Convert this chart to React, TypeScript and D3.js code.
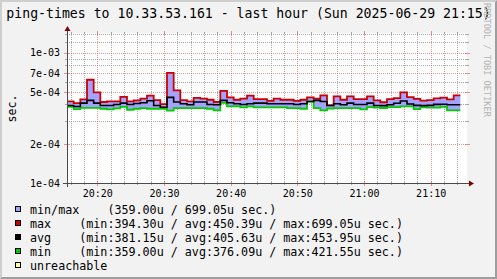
import React from "react";
import * as d3 from "d3";

const W = 497;
const H = 279;
const titleText = "ping-times to 10.33.53.161 - last hour (Sun 2025-06-29 21:15)";
const yAxisTitle = "sec.";
const watermark = "RRDTOOL / TOBI OETIKER";

const startTime = new Date(2025, 5, 29, 20, 15, 27);
const endTime = new Date(2025, 5, 29, 21, 15, 27);
const stepMinutes = 1;

// ping times in microseconds, one per minute
const maxValues = [
  423, 410, 438, 619, 495, 418, 423, 423, 458, 423,
  430, 443, 467, 432, 403, 699.05, 513, 432, 423, 450,
  443, 435, 418, 509, 454, 435, 443, 467, 440, 440,
  427, 443, 435, 435, 427, 435, 454, 443, 470, 394.3,
  462, 435, 462, 440, 440, 462, 430, 416, 439, 447,
  495, 456, 442, 429, 432, 445, 452, 438, 470,
];
const avgValues = [
  393, 386, 410, 430, 410, 393, 393, 400, 410, 400,
  407, 413, 427, 393, 381.15, 453.95, 418, 405, 398, 418,
  418, 400, 398, 430, 413, 405, 400, 405, 410, 410,
  405, 405, 405, 405, 400, 405, 422, 430, 422, 393,
  405, 398, 410, 400, 400, 410, 393, 392, 398, 409,
  425, 403, 394, 392, 394, 401, 402, 398, 398,
];
const minValues = [
  384, 369, 377, 377, 377, 371, 367, 373, 384, 364.5,
  371, 375.5, 371, 371, 371, 359, 375.5, 375.5, 375.5, 375,
  375.5, 371, 361, 412, 387, 387, 380, 387, 380, 380,
  380, 380, 380, 375.5, 375.5, 371, 421.55, 375.5, 360, 372,
  375.5, 375, 375, 375, 367, 382, 379, 376, 382, 382,
  387, 387, 369, 380, 378, 378, 384, 360, 360,
];

const yLabelValues = [1e-4, 2e-4, 5e-4, 7e-4, 1e-3];
const yMinorValues = [3e-4, 4e-4, 6e-4, 8e-4, 9e-4, 1.2e-3, 1.4e-3];
const yMin = 1e-4;
const yDecades = 150 / 130.4;

const legendLabels = ["min/max", "max", "avg", "min", "unreachable"];
const legendTexts = [
  "min/max    (359.00u / 699.05u sec.)",
  "max    (min:394.30u / avg:450.39u / max:699.05u sec.)",
  "avg    (min:381.15u / avg:405.63u / max:453.95u sec.)",
  "min    (min:359.00u / avg:376.09u / max:421.55u sec.)",
  "unreachable",
];
const legendColors = ["#a3a3ff", "#cc0000", "#000000", "#00cc00", "#ffff99"];

const FONT = "'DejaVu Sans Mono', monospace";
const COL_BAND = "#a3a3ff";
const COL_MAX = "#cc0000";
const COL_AVG = "#000000";
const COL_MIN = "#00cc00";
const COL_GRID = "rgba(143,143,143,0.75)";
const COL_MGRID = "rgba(222,80,80,0.6)";
const COL_AXIS = "#4a4a4a";
const COL_ARROW = "#7f0000";

export default function App() {
  const PL = 67, PR = 467, PT = 33, PB = 183;
  const x = d3.scaleTime().domain([startTime, endTime]).range([PL, PR]);
  const y = d3.scaleLog().domain([yMin, yMin * Math.pow(10, yDecades)]).range([PB, PT]);

  const n = maxValues.length;
  const tAt = (i: number) => new Date(startTime.getTime() + i * stepMinutes * 60000);
  const rows = maxValues.map((m, i) => ({
    t: tAt(i),
    max: m * 1e-6,
    avg: avgValues[i] * 1e-6,
    min: minValues[i] * 1e-6,
  }));
  rows.push({ ...rows[n - 1], t: tAt(n) });

  const band = d3
    .area<any>()
    .x((d) => x(d.t))
    .y0((d) => y(d.min))
    .y1((d) => y(d.max))
    .curve(d3.curveStepAfter)(rows) as string;
  const mkLine = (key: string) =>
    d3
      .line<any>()
      .x((d) => x(d.t))
      .y((d) => y(d[key]))
      .curve(d3.curveStepAfter)(rows) as string;

  const majorTicks = x.ticks(d3.timeMinute.every(10) as any);
  const majorSet = new Set(majorTicks.map((d) => d.getTime()));
  const minorTicks = x
    .ticks(d3.timeMinute.every(2) as any)
    .filter((d) => !majorSet.has(d.getTime()));
  const fmt = d3.timeFormat("%H:%M");
  const yFmt = (v: number) => {
    const e = Math.floor(Math.log10(v) + 1e-9);
    const m = Math.round(v / Math.pow(10, e));
    const es = Math.abs(e).toString().padStart(2, "0");
    return `${m}e${e < 0 ? "-" : "+"}${es}`;
  };

  const px = (v: number) => Math.round(v) + 0.5;

  return (
    <svg
      width={W}
      height={H}
      style={{ position: "absolute", left: 0, top: 0, display: "block" }}
      xmlns="http://www.w3.org/2000/svg"
    >
      <rect x={0} y={0} width={W} height={H} fill="#f2f2f2" />
      {/* 3D frame */}
      <polygon points={`0,0 ${W},0 ${W - 2},2 2,2 2,${H - 2} 0,${H}`} fill="#cfcfcf" />
      <polygon points={`0,${H} ${W},${H} ${W},0 ${W - 2},2 ${W - 2},${H - 2} 2,${H - 2}`} fill="#9e9e9e" />

      {/* title */}
      <text x={W / 2} y={17.5} textAnchor="middle" fontFamily={FONT} fontSize={13.2} fill="#000">
        {titleText}
      </text>

      {/* watermark */}
      <text
        transform={`translate(484,3) rotate(90)`}
        fontFamily={FONT}
        fontSize={8.6}
        fill="#b4b4b4"
        style={{ whiteSpace: "pre" }}
      >
        {watermark}
      </text>

      {/* y axis title */}
      <text
        transform={`translate(15.5,108.5) rotate(-90)`}
        textAnchor="middle"
        fontFamily={FONT}
        fontSize={11.7}
        fill="#000"
      >
        {yAxisTitle}
      </text>

      {/* canvas */}
      <rect x={PL} y={PT} width={PR - PL} height={PB - PT} fill="#ffffff" />

      {/* grid */}
      {minorTicks.map((t, i) => {
        const xx = px(x(t));
        return (
          <g key={"vm" + i}>
            <line x1={xx} x2={xx} y1={PT} y2={PB} stroke={COL_GRID} strokeDasharray="1,1" />
            <line x1={xx} x2={xx} y1={PB - 1} y2={PB + 2} stroke={COL_GRID} />
            <line x1={xx} x2={xx} y1={PT - 1} y2={PT + 1} stroke={COL_GRID} />
          </g>
        );
      })}
      {yMinorValues
        .filter((v) => y(v) >= PT - 0.6)
        .map((v, i) => {
          const yy = px(y(v));
          return (
            <g key={"hm" + i}>
              <line x1={PL} x2={PR} y1={yy} y2={yy} stroke={COL_GRID} strokeDasharray="1,1" />
              <line x1={PL - 2} x2={PL + 1} y1={yy} y2={yy} stroke={COL_GRID} />
              <line x1={PR - 1} x2={PR + 2} y1={yy} y2={yy} stroke={COL_GRID} />
            </g>
          );
        })}
      {majorTicks.map((t, i) => {
        const xx = px(x(t));
        return (
          <g key={"vM" + i}>
            <line x1={xx} x2={xx} y1={PT} y2={PB} stroke={COL_MGRID} strokeDasharray="1,1" />
            <line x1={xx} x2={xx} y1={PB - 2} y2={PB + 3} stroke={COL_MGRID} />
            <line x1={xx} x2={xx} y1={PT - 2} y2={PT + 2} stroke={COL_MGRID} />
          </g>
        );
      })}
      {yLabelValues.map((v, i) => {
        const yy = px(y(v));
        return (
          <g key={"hM" + i}>
            <line x1={PL} x2={PR} y1={yy} y2={yy} stroke={COL_MGRID} strokeDasharray="1,1" />
            <line x1={PL - 3} x2={PL + 2} y1={yy} y2={yy} stroke={COL_MGRID} />
            <line x1={PR - 2} x2={PR + 3} y1={yy} y2={yy} stroke={COL_MGRID} />
          </g>
        );
      })}

      {/* data */}
      <path d={band} fill={COL_BAND} stroke="none" />
      <path d={mkLine("max")} fill="none" stroke={COL_MAX} strokeWidth={1.8} />
      <path d={mkLine("min")} fill="none" stroke={COL_MIN} strokeWidth={1.8} />
      <path d={mkLine("avg")} fill="none" stroke={COL_AVG} strokeWidth={1.6} />

      {/* axes */}
      <line x1={PL - 4} x2={PR + 4} y1={PB + 0.5} y2={PB + 0.5} stroke={COL_AXIS} />
      <line x1={PL + 0.5} x2={PL + 0.5} y1={PB + 4} y2={PT - 4} stroke={COL_AXIS} />
      <polygon
        points={`${PR + 2},${PB - 2.5} ${PR + 2},${PB + 3.5} ${PR + 7},${PB + 0.5}`}
        fill={COL_ARROW}
      />
      <polygon
        points={`${PL - 2.5},${PT - 2} ${PL + 3.5},${PT - 2} ${PL + 0.5},${PT - 7}`}
        fill={COL_ARROW}
      />

      {/* axis labels */}
      {majorTicks.map((t, i) => (
        <text
          key={"xl" + i}
          x={x(t) + 0.5}
          y={196.5}
          textAnchor="middle"
          fontFamily={FONT}
          fontSize={10}
          fill="#000"
        >
          {fmt(t)}
        </text>
      ))}
      {yLabelValues.map((v, i) => (
        <text
          key={"yl" + i}
          x={60}
          y={y(v) + 3.8}
          textAnchor="end"
          fontFamily={FONT}
          fontSize={10}
          fill="#000"
        >
          {yFmt(v)}
        </text>
      ))}

      {/* legend */}
      {legendLabels.map((lab, i) => {
        const top = 206.5 + i * 14;
        return (
          <g key={"lg" + lab}>
            <rect x={15.5} y={top} width={5} height={5} fill={legendColors[i]} stroke="#000" strokeWidth={1} />
            <text
              x={30}
              y={top + 7}
              fontFamily={FONT}
              fontSize={11.7}
              fill="#000"
              style={{ whiteSpace: "pre" }}
            >
              {legendTexts[i]}
            </text>
          </g>
        );
      })}
    </svg>
  );
}
